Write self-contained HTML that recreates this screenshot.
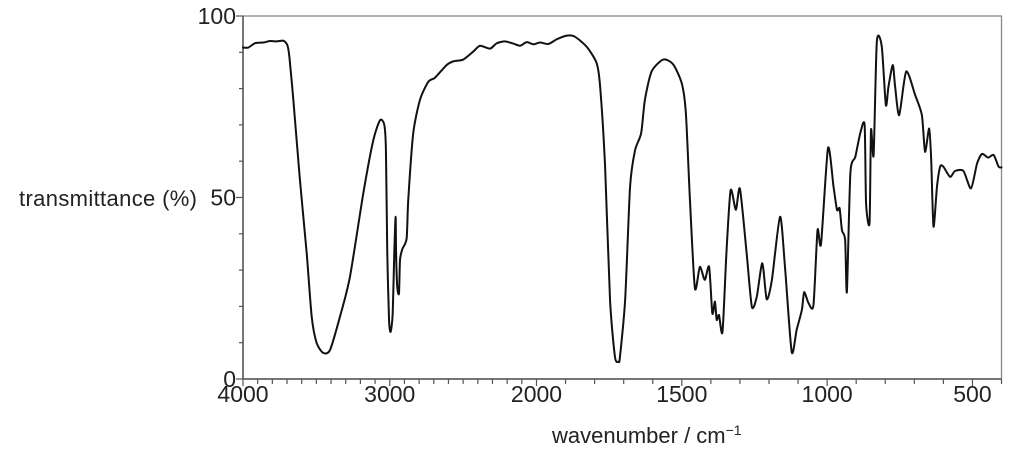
<!DOCTYPE html>
<html><head><meta charset="utf-8"><style>
html,body{margin:0;padding:0;background:#fff;}
svg{display:block;font-family:"Liberation Sans",Arial,sans-serif;}
</style></head><body>
<svg id="chart" width="1024" height="453" viewBox="0 0 1024 453" xmlns="http://www.w3.org/2000/svg">
<g id="axes"></g>
<g id="series"></g>
<text x="19" y="206" font-size="22" textLength="178" fill="#222">transmittance (%)</text>
<text x="552" y="443" font-size="22" fill="#222">wavenumber / cm<tspan dy="-8" font-size="14">−1</tspan></text>
</svg>
<script>
const wavenumbers = [4000,3964,3918,3861,3816,3770,3725,3698,3684,3657,3612,3566,3532,3498,3453,3407,3339,3271,3180,3112,3066,3037,3026,3017,3005,2994,2980,2969,2960,2957,2949,2937,2930,2914,2885,2874,2840,2794,2737,2692,2612,2567,2499,2431,2385,2317,2271,2215,2158,2112,2067,2021,1988,1959,1930,1896,1868,1827,1793,1781,1764,1747,1730,1718,1713,1695,1678,1661,1640,1627,1604,1564,1530,1500,1486,1472,1455,1438,1421,1406,1395,1386,1380,1372,1360,1346,1332,1314,1300,1277,1259,1242,1223,1208,1190,1162,1145,1122,1105,1087,1079,1064,1047,1033,1021,997,978,966,957,949,938,932,920,903,886,871,866,854,849,840,829,812,798,789,774,766,752,728,697,674,663,649,642,634,622,611,600,577,560,531,505,484,467,446,427,410,400];
const transmittance = [91.3,91.3,92.5,92.7,93.1,93,93.2,92,88.8,76.9,54.8,34.7,17.2,9.9,7.2,8,17.2,28.2,51.2,65.8,71.3,70,63,35,16.3,13,18,35,44.7,35,25.4,23.6,32.8,35.8,38.7,49.3,67.7,76.9,81.9,83,86.5,87.5,88,90.2,91.8,91,92.5,93,92.4,91.8,92.8,92.2,92.7,92.3,93.6,94.6,94.3,91.5,87,80.5,58.5,21.8,6.1,4.8,6,21.8,53,63,67.7,76.9,84.7,88,86.7,81.4,73.2,49.3,25,30.9,27.3,30.9,18.1,21.3,16.3,17.6,13,35.5,52,46.6,52.4,34.7,19.9,22.7,31.9,22,27.3,44.7,30.9,7.5,13.5,19,23.9,20.9,20.4,41,37.2,63.6,53,46.6,47,41,38.3,24,56.7,61.2,67.7,70,48.4,43,68.6,61.7,92.9,91.6,75.5,80.5,86.5,80.5,72.7,84.7,78.2,72.7,62.6,69,60.6,42,53,58.5,58.5,55.7,57.3,57.3,52.5,59.4,62,61,61.7,58.5,58.3];
const xTickLabels = [4000,3000,2000,1500,1000,500];
const yTickLabels = [0,50,100];

const X0=243, XB=536.5, X1=1001.5, Y0=379, Y1=16;
function xScale(w){ return w>=2000 ? X0+(4000-w)*(XB-X0)/2000 : XB+(2000-w)*(X1-XB)/1600; }
function yScale(t){ return Y0-(t/100)*(Y0-Y1); }
const NS="http://www.w3.org/2000/svg";
const axes=document.getElementById('axes');
function mk(tag,attrs,parent){const e=document.createElementNS(NS,tag);for(const k in attrs)e.setAttribute(k,attrs[k]);parent.appendChild(e);return e;}

const frame=mk('rect',{x:X0,y:Y1,width:X1-X0,height:Y0-Y1,fill:'none',stroke:'#888','stroke-width':1.3},axes);


const xAxis=mk('line',{x1:X0,y1:Y0,x2:X1,y2:Y0,stroke:'#555','stroke-width':1.5},axes);


const yAxis=mk('line',{x1:X0,y1:Y0,x2:X0,y2:Y1,stroke:'#555','stroke-width':1.5},axes);



for(let w=4000;w>=400;w-=100){
  const x=xScale(w);
  const major=xTickLabels.includes(w);
  const t=mk('line',{x1:x,y1:Y0,x2:x,y2:Y0+(major?7:5),stroke:'#555','stroke-width':1.2},axes);
  
  
}
xTickLabels.forEach(v=>{
  const t=mk('text',{x:xScale(v),y:Y0+23,'font-size':23,'text-anchor':'middle',fill:'#222'},axes);
  t.textContent=v;
  
  
});
for(let v=0;v<=100;v+=10){
  const y=yScale(v);
  const major=yTickLabels.includes(v);
  const t=mk('line',{x1:X0-(major?7:4),y1:y,x2:X0,y2:y,stroke:'#555','stroke-width':1.2},axes);
  
  
}
yTickLabels.forEach(v=>{
  const t=mk('text',{x:X0-7,y:yScale(v)+8,'font-size':23,'text-anchor':'end',fill:'#222'},axes);
  t.textContent=v;
  
  
});

// Catmull-Rom smoothing through data points
const pts=wavenumbers.map((w,i)=>[xScale(w),yScale(transmittance[i])]);
let d='M'+pts[0][0].toFixed(2)+','+pts[0][1].toFixed(2);
for(let i=0;i<pts.length-1;i++){
  const p0=pts[Math.max(0,i-1)],p1=pts[i],p2=pts[i+1],p3=pts[Math.min(pts.length-1,i+2)];
  const k=0.12;
  const c1=[p1[0]+(p2[0]-p0[0])*k,p1[1]+(p2[1]-p0[1])*k];
  const c2=[p2[0]-(p3[0]-p1[0])*k,p2[1]-(p3[1]-p1[1])*k];
  d+='C'+c1[0].toFixed(2)+','+c1[1].toFixed(2)+' '+c2[0].toFixed(2)+','+c2[1].toFixed(2)+' '+p2[0].toFixed(2)+','+p2[1].toFixed(2);
}
const line=mk('path',{d:d,fill:'none',stroke:'#111','stroke-width':2,'stroke-linejoin':'round','stroke-linecap':'round'},document.getElementById('series'));


</script>
</body></html>
